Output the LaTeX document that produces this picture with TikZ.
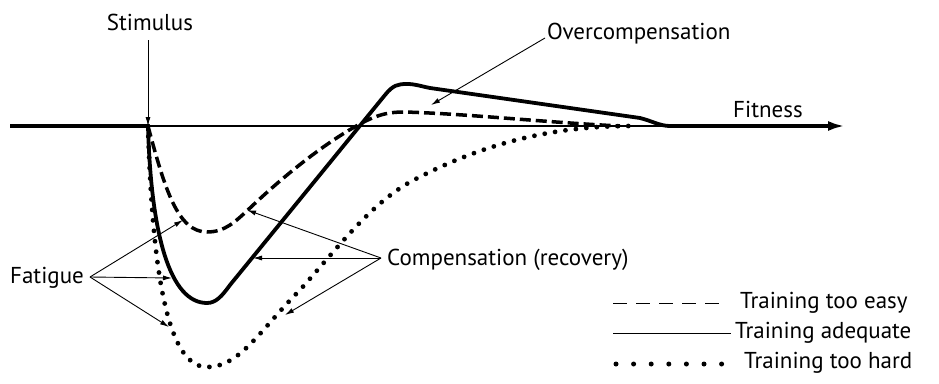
\documentclass[tikz,border=0pt]{standalone}
\usepackage{fontspec}
\setmainfont{PT Sans}
\usetikzlibrary{arrows.meta}
\begin{document}
\begin{tikzpicture}[x=1pt,y=-1pt,
  font=\fontsize{23}{27}\selectfont,
  easy/.style={line width=3.5pt, dash pattern=on 11pt off 5pt},
  adequate/.style={line width=3.8pt, line join=round},
  hard/.style={line width=4.8pt, line cap=round, dash pattern=on 0pt off 10.5pt},
  pointer/.style={line width=0.9pt, -{Latex[length=9pt,width=5pt]}},
  lbl/.style={inner sep=0pt, anchor=base west}]
\useasboundingbox (0,0) rectangle (939,383);
% axis
\coordinate (a0) at (10,126);
\coordinate (s) at (148,126);
\coordinate (e) at (670,126);
\coordinate (a1) at (845,126);
\draw[line width=3.8pt] (a0) -- (s);
\draw[line width=1.2pt] (s) -- (e);
\draw[line width=3.8pt, -{Latex[length=17pt,width=10pt]}] (e) -- (a1);
% curves
\draw[adequate] (s) .. controls (151,235) and (170,303) .. (207,303)
  .. controls (216,303) and (222,296) .. (230,285) -- (385,95)
  .. controls (393,85) and (398,84) .. (407,84)
  .. controls (415,84) and (420,86) .. (430,88) -- (640,118)
  .. controls (652,121) and (660,126) .. (e);
\draw[easy] (s) .. controls (165,190) and (178,232) .. (207,232)
  .. controls (225,232) and (235,222) .. (250,208)
  .. controls (290,170) and (330,140) .. (360,124)
  .. controls (380,113) and (392,112) .. (405,112)
  .. controls (470,114) and (540,122) .. (620,126);
\draw[hard] (s) .. controls (152,260) and (165,367) .. (207,367)
  .. controls (240,367) and (260,330) .. (300,290)
  .. controls (340,245) and (370,205) .. (410,182)
  .. controls (470,150) and (540,126) .. (630,126);
% labels
\node[inner sep=0pt, anchor=base] (stim) at (150,30) {Stimulus};
\coordinate (stimtop) at (148,40);
\draw[pointer] (stimtop) -- (s);
\node[lbl] (over) at (547,39) {Overcompensation};
\coordinate (overfrom) at (545,38);
\coordinate (overto) at (431,105);
\draw[pointer] (overfrom) -- (overto);
\node[lbl] (fit) at (733,117) {Fitness};
\node[lbl] (fat) at (10,283) {Fatigue};
\coordinate (fatfrom) at (90,277);
\coordinate (f1) at (183,220);
\coordinate (f2) at (172,278);
\coordinate (f3) at (169,327);
\draw[pointer] (fatfrom) -- (f1);
\draw[pointer] (fatfrom) -- (f2);
\draw[pointer] (fatfrom) -- (f3);
\node[lbl] (comp) at (387,265) {Compensation (recovery)};
\coordinate (compfrom) at (381,258);
\coordinate (c1) at (247,210);
\coordinate (c2) at (253,258);
\coordinate (c3) at (285,315);
\draw[pointer] (compfrom) -- (c1);
\draw[pointer] (compfrom) -- (c2);
\draw[pointer] (compfrom) -- (c3);
% legend
\coordinate (l1a) at (613,303); \coordinate (l1b) at (722,303);
\coordinate (l2a) at (613,333); \coordinate (l2b) at (731,333);
\coordinate (l3a) at (616,364); \coordinate (l3b) at (722,364);
\draw[line width=1pt, dash pattern=on 14pt off 9pt] (l1a) -- (l1b);
\draw[line width=1pt] (l2a) -- (l2b);
\draw[line width=5pt, line cap=round, dash pattern=on 0pt off 17.6pt] (l3a) -- (l3b);
\node[lbl] (leg1) at (740,308) {Training too easy};
\node[lbl] (leg2) at (735,338) {Training adequate};
\node[lbl] (leg3) at (744,368) {Training too hard};
\end{tikzpicture}
\end{document}
